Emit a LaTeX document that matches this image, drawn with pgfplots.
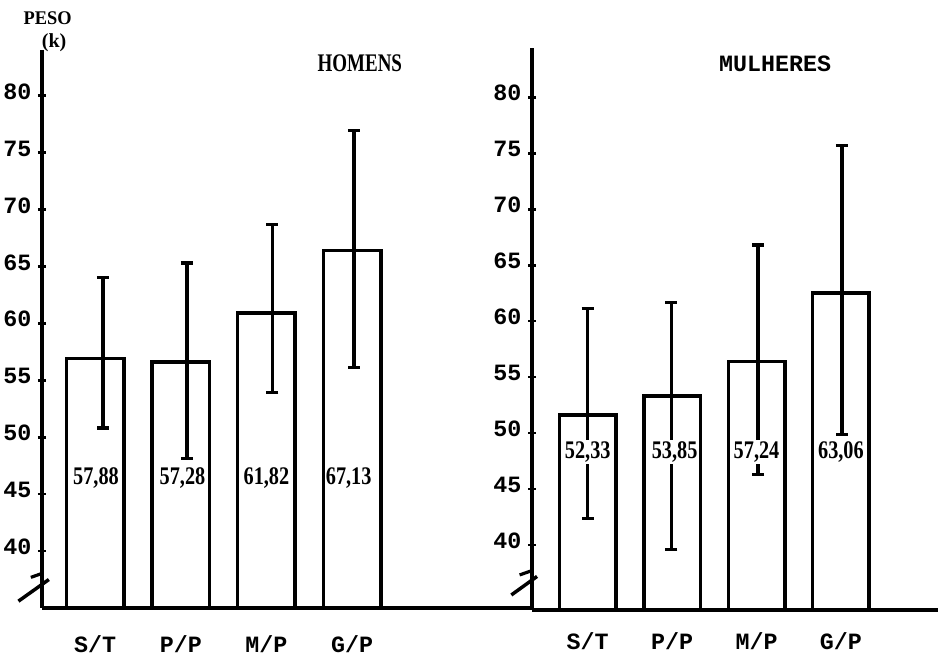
\documentclass[border=0pt]{standalone}
\usepackage{pgfplots}
\pgfplotsset{compat=1.18}
\usepackage{fontspec}
\setmainfont{Liberation Serif}
\setmonofont{Liberation Mono}
\usepackage{graphicx}

\newcommand{\tfont}{\ttfamily\bfseries\fontsize{17.5}{17.5}\selectfont}
\newcommand{\vfont}{\rmfamily\bfseries\fontsize{19}{19}\selectfont}

\pgfplotsset{
  panel/.style={
    scale only axis, anchor=south west,
    axis lines=left, axis line style={-, line width=2.6pt},
    clip mode=individual,
    ytick={40,45,...,80}, tick align=center, major tick length=6pt,
    y tick style={line width=2pt, black},
    xtick={0,1,2,3}, xticklabels={S/T,P/P,M/P,G/P},
    x tick style={draw=none},
    /pgf/number format/assume math mode=true,
    yticklabel style={font=\tfont, anchor=center, xshift=-15.5pt, yshift=3pt},
    xticklabel style={font=\tfont, anchor=center, yshift=-24pt},
  },
  bars/.style={ybar, bar width=0.67, fill=white, draw=black, line width=2.6pt},
  errs/.style={draw=none, mark=none,
    error bars/.cd, y dir=both, y explicit, error mark=|,
    error bar style={draw=black, line width=2.6pt},
    error mark options={draw=black, line width=2.4pt, mark size=4.5pt}},
}
\tikzset{vlab/.style={font=\vfont, fill=white, inner sep=1pt}}

\begin{document}
\begin{tikzpicture}
\path[use as bounding box] (0,0) rectangle (703.5pt,494.25pt);

% HOMENS
\begin{axis}[panel, at={(31.5pt,38.25pt)}, width=367.5pt, height=418.5pt,
  xmin=-0.62, xmax=5.10, ymin=35, ymax=84]
\addplot[bars] coordinates {(0,56.9) (1,56.6) (2,60.9) (3,66.4)};
\addplot[errs] coordinates {
  (0.09,56.9) += (0,7.1) -= (0,6.1)
  (1.07,56.6) += (0,8.7) -= (0,8.5)
  (2.07,60.9) += (0,7.8) -= (0,7.0)
  (3.02,66.4) += (0,10.5) -= (0,10.3)
};
\node[vlab] at (axis cs:0.01,46.4) {\scalebox{0.8}[1]{57,88}};
\node[vlab] at (axis cs:1.02,46.4) {\scalebox{0.8}[1]{57,28}};
\node[vlab] at (axis cs:2.00,46.4) {\scalebox{0.8}[1]{61,82}};
\node[vlab] at (axis cs:2.96,46.4) {\scalebox{0.8}[1]{67,13}};
\node[font=\vfont] at (axis cs:3.09,82.8) {\scalebox{0.75}[1]{HOMENS}};
\node[font=\rmfamily\bfseries\fontsize{14.5}{14.5}\selectfont] at (axis cs:-0.554,86.8) {\scalebox{0.95}[1]{PESO}};
\node[font=\rmfamily\bfseries\fontsize{15}{15}\selectfont] at (axis cs:-0.478,84.6) {(k)};
\draw[line width=2.4pt] (axis cs:-0.75,37.69) -- (axis cs:-0.618,38.04);
\draw[line width=2.6pt] (axis cs:-0.54,37.5) -- (axis cs:-0.895,35.6);
\end{axis}

% MULHERES
\begin{axis}[panel, at={(399pt,36.75pt)}, width=304.5pt, height=421.5pt,
  xmin=-0.66, xmax=4.15, ymin=34.2, ymax=84.4,
  xticklabel style={yshift=4pt}]
\addplot[bars] coordinates {(0,51.6) (1,53.3) (2,56.4) (3,62.5)};
\addplot[errs] coordinates {
  (0,51.6) += (0,9.5) -= (0,9.2)
  (0.99,53.3) += (0,8.4) -= (0,13.7)
  (2.02,56.4) += (0,10.4) -= (0,10.1)
  (3.01,62.5) += (0,13.2) -= (0,12.6)
};
\node[vlab] at (axis cs:0.00,48.3) {\scalebox{0.8}[1]{52,33}};
\node[vlab] at (axis cs:1.03,48.3) {\scalebox{0.8}[1]{53,85}};
\node[vlab] at (axis cs:2.00,48.3) {\scalebox{0.8}[1]{57,24}};
\node[vlab] at (axis cs:3.00,48.3) {\scalebox{0.8}[1]{63,06}};
\node[font=\tfont] at (axis cs:2.22,82.95) {MULHERES};
\draw[line width=2.4pt] (axis cs:-0.807,37.33) -- (axis cs:-0.664,37.71);
\draw[line width=2.6pt] (axis cs:-0.6,37.2) -- (axis cs:-0.905,35.54);
\end{axis}
\end{tikzpicture}
\end{document}
